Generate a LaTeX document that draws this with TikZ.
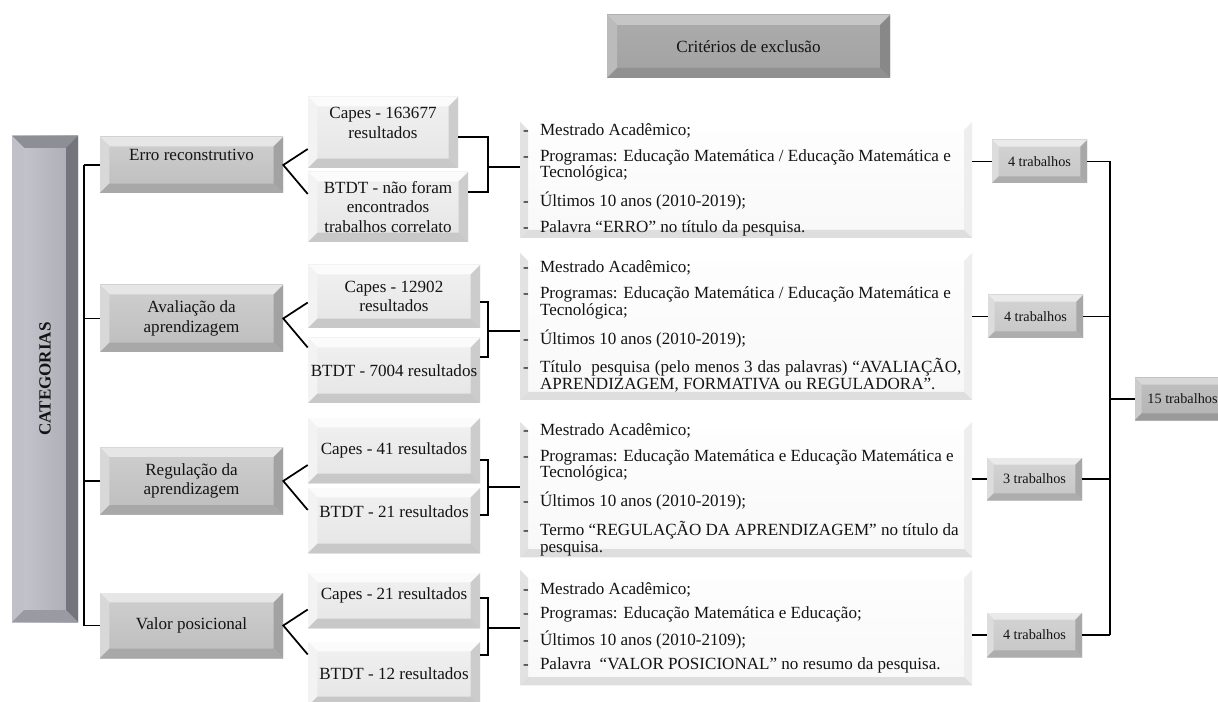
\documentclass[tikz,border=0pt]{standalone}
\usepackage{fontspec}
\setmainfont{Liberation Serif}
\usepackage{graphicx}
\usetikzlibrary{calc,backgrounds}

\definecolor{txt}{HTML}{141414}
\definecolor{catT}{HTML}{CFCFCF}\definecolor{catB}{HTML}{BDBDBD}
\definecolor{catTop}{HTML}{E6E6E6}\definecolor{catLeft}{HTML}{D8D8D8}
\definecolor{catRight}{HTML}{A2A2A2}\definecolor{catBot}{HTML}{A8A8A8}
\definecolor{srcT}{HTML}{F1F1F1}\definecolor{srcB}{HTML}{E5E5E5}
\definecolor{srcTop}{HTML}{FBFBFB}\definecolor{srcLeft}{HTML}{F3F3F3}
\definecolor{srcRight}{HTML}{CCCCCC}\definecolor{srcBot}{HTML}{C8C8C8}
\definecolor{critT}{HTML}{FEFEFE}\definecolor{critB}{HTML}{F8F8F8}
\definecolor{critTop}{HTML}{FFFFFF}\definecolor{critLeft}{HTML}{E2E2E2}
\definecolor{critRight}{HTML}{EEEEEE}\definecolor{critBot}{HTML}{DEDEDE}
\definecolor{xT}{HTML}{ACACAC}\definecolor{xB}{HTML}{A2A2A2}
\definecolor{xTop}{HTML}{C6C6C6}\definecolor{xLeft}{HTML}{BBBBBB}
\definecolor{xRight}{HTML}{888888}\definecolor{xBot}{HTML}{919191}
\definecolor{tT}{HTML}{D4D4D4}\definecolor{tB}{HTML}{C6C6C6}
\definecolor{tTop}{HTML}{EAEAEA}\definecolor{tLeft}{HTML}{DCDCDC}
\definecolor{tRight}{HTML}{A8A8A8}\definecolor{tBot}{HTML}{ADADAD}
\definecolor{fT}{HTML}{C0C0C0}\definecolor{fB}{HTML}{B3B3B3}
\definecolor{fTop}{HTML}{D8D8D8}\definecolor{fLeft}{HTML}{CCCCCC}
\definecolor{fRight}{HTML}{909090}\definecolor{fBot}{HTML}{9A9A9A}
\definecolor{barL}{HTML}{C8C8D0}\definecolor{barR}{HTML}{AAAAB2}
\definecolor{barTop}{HTML}{8E8E96}\definecolor{barLeft}{HTML}{C0C0C8}
\definecolor{barRight}{HTML}{74747C}\definecolor{barBot}{HTML}{9A9AA2}

\newcommand{\critdash}{\makebox[12.75pt][l]{-}}
\newcommand{\hind}{\hspace*{12.75pt}}
\newenvironment{critlist}{\begin{minipage}{334.5pt}\raggedright}{\end{minipage}}
\newcommand{\liftx}[2]{\raisebox{#1}[\height][\depth]{\begin{tabular}{@{}c@{}}#2\end{tabular}}}

\tikzset{
  bevel/.style n args={5}{path picture={
    \fill[#2] (path picture bounding box.north west) -- (path picture bounding box.north east)
      -- ([xshift=-#1,yshift=-#1]path picture bounding box.north east)
      -- ([xshift=#1,yshift=-#1]path picture bounding box.north west) -- cycle;
    \fill[#3] (path picture bounding box.north west) -- ([xshift=#1,yshift=-#1]path picture bounding box.north west)
      -- ([xshift=#1,yshift=#1]path picture bounding box.south west) -- (path picture bounding box.south west) -- cycle;
    \fill[#4] (path picture bounding box.north east) -- ([xshift=-#1,yshift=-#1]path picture bounding box.north east)
      -- ([xshift=-#1,yshift=#1]path picture bounding box.south east) -- (path picture bounding box.south east) -- cycle;
    \fill[#5] (path picture bounding box.south west) -- ([xshift=#1,yshift=#1]path picture bounding box.south west)
      -- ([xshift=-#1,yshift=#1]path picture bounding box.south east) -- (path picture bounding box.south east) -- cycle;
  }},
  wh/.style 2 args={minimum width={#1*0.75pt}, minimum height={#2*0.75pt}},
  box/.style={inner sep=0pt, text=txt, align=center, anchor=center},
  catbox/.style={box, top color=catT, bottom color=catB,
    bevel={7pt}{catTop}{catLeft}{catRight}{catBot}, font=\fontsize{12.8}{14.5}\selectfont},
  srcbox/.style={box, top color=srcT, bottom color=srcB,
    bevel={7pt}{srcTop}{srcLeft}{srcRight}{srcBot}, font=\fontsize{12.8}{14.5}\selectfont},
  critbox/.style={inner sep=0pt, anchor=center, text=txt, top color=critT, bottom color=critB,
    bevel={6pt}{critTop}{critLeft}{critRight}{critBot}, font=\fontsize{12.8}{12.5}\selectfont},
  headbox/.style={box, top color=xT, bottom color=xB,
    bevel={7.5pt}{xTop}{xLeft}{xRight}{xBot}, font=\fontsize{12.8}{14.5}\selectfont},
  trabbox/.style={box, top color=tT, bottom color=tB,
    bevel={5pt}{tTop}{tLeft}{tRight}{tBot}, font=\fontsize{10.7}{12}\selectfont},
  totbox/.style={box, top color=fT, bottom color=fB,
    bevel={5pt}{fTop}{fLeft}{fRight}{fBot}, font=\fontsize{10.7}{12}\selectfont},
  barbox/.style={box, left color=barL, right color=barR,
    bevel={9pt}{barTop}{barLeft}{barRight}{barBot}, font=\bfseries\fontsize{12.8}{14}\selectfont},
  conn/.style={line width=1.3pt, black},
  shad/.style={fill=black, opacity=0.22},
}

\begin{document}
\begin{tikzpicture}[x=0.75pt,y=-0.75pt]
\useasboundingbox (0,0) rectangle (1218,702);
\clip (0,0) rectangle (1218,702);
\fill[white] (0,0) rectangle (1218,702);

% header
\node[headbox, wh={283}{63}] (critx) at (748.5,46.5) {Critérios de exclusão};

% left bar
\node[barbox, wh={66}{486}] (bar) at (45,379) {\rotatebox{90}{CATEGORIAS}};

% categories
\node[catbox, wh={183}{56}] (cat1) at (191.5,165) {\liftx{6pt}{Erro reconstrutivo}};
\node[catbox, wh={183}{67}] (cat2) at (191.5,318.5) {Avaliação da\\aprendizagem};
\node[catbox, wh={183}{67}] (cat3) at (191.5,481) {Regulação da\\aprendizagem};
\node[catbox, wh={183}{65}] (cat4) at (191.5,625.5) {Valor posicional};

% sources
\node[srcbox, wh={150}{71}] (capes1) at (383,132.5) {\liftx{6pt}{Capes - 163677\\resultados}};
\node[srcbox, wh={160}{70}] (btdt1) at (388,207) {BTDT - não foram\\encontrados\\trabalhos correlato};
\node[srcbox, wh={172}{63}] (capes2) at (394,296.5) {Capes - 12902\\resultados};
\node[srcbox, wh={172}{65}] (btdt2) at (394,370.5) {BTDT - 7004 resultados};
\node[srcbox, wh={172}{65}] (capes3) at (394,450.5) {Capes - 41 resultados};
\node[srcbox, wh={172}{65}] (btdt3) at (394,520.5) {\liftx{5pt}{BTDT - 21 resultados}};
\node[srcbox, wh={172}{55}] (capes4) at (394,600.5) {\liftx{4pt}{Capes - 21 resultados}};
\node[srcbox, wh={172}{64}] (btdt4) at (394,674) {BTDT - 12 resultados};

% criteria
\node[critbox, wh={452}{116}] (crit1) at (746,180) {\begin{critlist}
\critdash Mestrado Acadêmico;\\[7pt]
\critdash Programas: Educação Matemática / Educação Matemática e\\
\hind Tecnológica;\\[7pt]
\critdash Últimos 10 anos (2010-2019);\\[7pt]
\critdash Palavra “ERRO” no título da pesquisa.\end{critlist}};
\node[critbox, wh={452}{147}] (crit2) at (746,326.5) {\begin{critlist}
\critdash Mestrado Acadêmico;\\[7pt]
\critdash Programas: Educação Matemática / Educação Matemática e\\
\hind Tecnológica;\\[7pt]
\critdash Últimos 10 anos (2010-2019);\\[7pt]
\critdash \makebox[316pt][s]{Título\ \ pesquisa (pelo menos 3 das palavras) “AVALIAÇÃO,}\\
\hind APRENDIZAGEM, FORMATIVA ou REGULADORA”.\end{critlist}};
\node[critbox, wh={452}{135}] (crit3) at (746,489.5) {\begin{critlist}
\critdash Mestrado Acadêmico;\\[7pt]
\critdash Programas: Educação Matemática e Educação Matemática e\\
\hind Tecnológica;\\[7pt]
\critdash Últimos 10 anos (2010-2019);\\[7pt]
\critdash Termo “REGULAÇÃO DA APRENDIZAGEM” no título da\\
\hind pesquisa.\end{critlist}};
\node[critbox, wh={452}{115}] (crit4) at (746,627.5) {\begin{critlist}
\critdash Mestrado Acadêmico;\\[5.5pt]
\critdash Programas: Educação Matemática e Educação;\\[5.5pt]
\critdash Últimos 10 anos (2010-2109);\\[5.5pt]
\critdash Palavra\ \ “VALOR POSICIONAL” no resumo da pesquisa.\end{critlist}};

% results
\node[trabbox, wh={95}{43}] (t1) at (1039.5,161.5) {4 trabalhos};
\node[trabbox, wh={95}{43}] (t2) at (1035.5,316.5) {4 trabalhos};
\node[trabbox, wh={95}{42}] (t3) at (1034.5,479) {3 trabalhos};
\node[trabbox, wh={95}{44}] (t4) at (1034.5,635) {4 trabalhos};
\node[totbox, wh={95}{42}] (t15) at (1182.5,399) {15 trabalhos};

% shadows and header line behind boxes
\begin{scope}[on background layer]
  \foreach \n in {critx,bar,cat1,cat2,cat3,cat4,capes1,btdt1,capes2,btdt2,capes3,btdt3,capes4,btdt4,crit1,crit2,crit3,crit4,t1,t2,t3,t4,t15}
    \fill[shad] ([xshift=1pt,yshift=-2.2pt]\n.south west) rectangle ([xshift=1pt,yshift=-2.2pt]\n.north east);
  \draw[conn] (critx.south) -- (critx.south |- crit4.north);
\end{scope}

% left tree
\coordinate (lt) at (84,165);
\draw[conn] (cat1.west -| lt) -- (cat4.west -| lt);
\foreach \c in {cat1,cat2,cat3,cat4}
  \draw[conn] (\c.west) -- (\c.west -| lt);

% forks
\foreach \i in {1,2,3,4}
  \draw[conn] ($(capes\i.west |- cat\i.east)+(0,-16)$) -- (cat\i.east) -- ($(btdt\i.west |- cat\i.east)+(0,29)$);

% brackets
\coordinate (k1) at (488,167); \coordinate (k1a) at (488,137); \coordinate (k1b) at (488,192);
\coordinate (k2) at (488,331); \coordinate (k2a) at (488,302); \coordinate (k2b) at (488,357);
\coordinate (k3) at (488,487); \coordinate (k3a) at (488,460); \coordinate (k3b) at (488,515);
\coordinate (k4) at (488,628); \coordinate (k4a) at (488,598); \coordinate (k4b) at (488,655);
\foreach \i in {1,2,3,4} {
  \draw[conn] (capes\i.east |- k\i a) -- (k\i a) -- (k\i b) -- (btdt\i.east |- k\i b);
  \draw[conn] (k\i) -- (crit\i.west |- k\i);
}

% right side
\coordinate (rt) at (1110,165);
\foreach \i in {1,2,3,4} {
  \draw[conn] (crit\i.east |- t\i.west) -- (t\i.west);
  \draw[conn] (t\i.east) -- (t\i.east -| rt);
}
\draw[conn] (t1.east -| rt) -- (t4.east -| rt);
\draw[conn] (t15.west -| rt) -- (t15.west);
\end{tikzpicture}
\end{document}
